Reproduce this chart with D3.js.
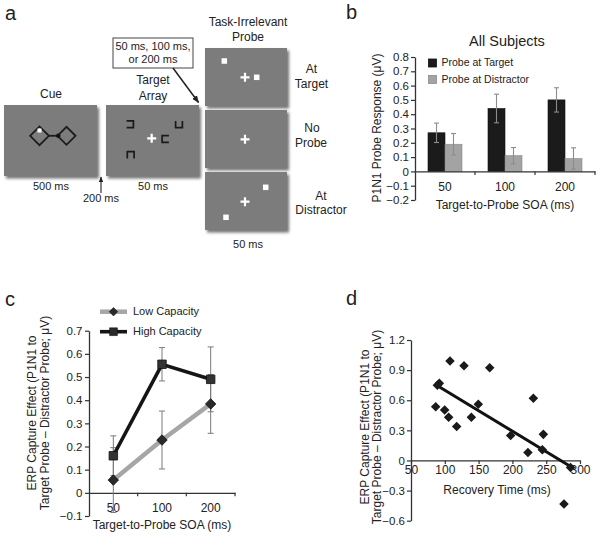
<!DOCTYPE html>
<html><head><meta charset="utf-8">
<script src="https://cdn.jsdelivr.net/npm/d3@7"></script>
<style>
body{margin:0;background:#fff}
svg{display:block}
text{font-family:"Liberation Sans",Arial,sans-serif;fill:#222}
</style>
</head><body><svg id="fig" width="600" height="536"></svg>
<script>
// ---------------- DATA ----------------
// Panel b
const soaCategories = ["50", "100", "200"];
const probeSeries = ["Probe at Target", "Probe at Distractor"];
const probeAtTarget = [0.27, 0.44, 0.50];
const probeAtTargetErr = [0.068, 0.10, 0.085];
const probeAtDistractor = [0.19, 0.11, 0.09];
const probeAtDistractorErr = [0.075, 0.057, 0.075];
const bTicks = [-0.2, -0.1, 0, 0.1, 0.2, 0.3, 0.4, 0.5, 0.6, 0.7, 0.8];

// Panel c
const capacitySeries = ["Low Capacity", "High Capacity"];
const lowCapacity = [0.055, 0.228, 0.384];
const lowCapacityErr = [0.14, 0.125, 0.127];
const highCapacity = [0.16, 0.555, 0.49];
const highCapacityErr = [0.086, 0.072, 0.14];
const cTicks = [-0.1, 0, 0.1, 0.2, 0.3, 0.4, 0.5, 0.6, 0.7];

// Panel d
const recoveryTime = [86.5, 91.9, 89, 107.7, 99.8, 105.7, 117.6, 128.4, 139.3, 149.6, 166.4, 197.4, 231, 223, 245.8, 244.3, 286, 276.3];
const captureEffect = [0.536, 0.768, 0.75, 0.99, 0.503, 0.43, 0.338, 0.944, 0.43, 0.56, 0.924, 0.248, 0.62, 0.08, 0.26, 0.106, -0.07, -0.434];
const fitX = [85.5, 286];
const fitY = [0.76, -0.06];
const dXTicks = [50, 100, 150, 200, 250, 300];
const dYTicks = [-0.6, -0.3, 0, 0.3, 0.6, 0.9, 1.2];

// ---------------- HELPERS ----------------
const svg = d3.select("#fig");
const fmt = v => Math.abs(v) < 1e-9 ? "0" : (v < 0 ? "\u2212" : "") + Math.abs(v).toFixed(1);
const FONT = "Liberation Sans, Arial, sans-serif";

const defs = svg.append("defs");
defs.append("filter").attr("id", "shadow").attr("x", "-10%").attr("y", "-10%").attr("width", "130%").attr("height", "130%")
  .append("feDropShadow").attr("dx", 2).attr("dy", 2.5).attr("stdDeviation", 1.6)
  .attr("flood-color", "#000").attr("flood-opacity", 0.55);
defs.append("marker").attr("id", "arrow").attr("viewBox", "0 0 10 10")
  .attr("refX", 9).attr("refY", 5).attr("markerWidth", 5).attr("markerHeight", 5)
  .attr("orient", "auto-start-reverse")
  .append("path").attr("d", "M0,1 L10,5 L0,9 Z").attr("fill", "#222");

function letter(x, y, t) {
  svg.append("text").attr("x", x).attr("y", y).attr("font-size", 20).text(t);
}
function styleAxis(g) {
  g.selectAll("path.domain").attr("stroke", "#333").attr("stroke-width", 1.3);
  g.selectAll(".tick line").attr("stroke", "#333").attr("stroke-width", 1.2);
  g.selectAll(".tick text").attr("font-family", FONT).attr("font-size", 11.5).attr("fill", "#333");
}

// ---------------- PANEL A ----------------
letter(5, 20, "a");
const boxFill = "#7c7c7c";
const pa = svg.append("g");
function box(x, y, w, h) {
  pa.append("rect").attr("x", x).attr("y", y).attr("width", w).attr("height", h)
    .attr("fill", boxFill).attr("filter", "url(#shadow)");
}
function cross(cx, cy) {
  pa.append("path").attr("d", `M${cx - 4.5},${cy} H${cx + 4.5} M${cx},${cy - 4.5} V${cy + 4.5}`)
    .attr("stroke", "#fff").attr("stroke-width", 2.2);
}
function whiteSq(cx, cy, s) {
  pa.append("rect").attr("x", cx - s / 2).attr("y", cy - s / 2).attr("width", s).attr("height", s).attr("fill", "#fff");
}
function label(x, y, t, size, anchor) {
  pa.append("text").attr("x", x).attr("y", y).attr("font-size", size || 12)
    .attr("text-anchor", anchor || "middle").attr("dominant-baseline", "middle").text(t);
}
// Cue
box(4, 105, 93, 71);
const dia = (cx, cy, r) => `M${cx - r},${cy} L${cx},${cy - r} L${cx + r},${cy} L${cx},${cy + r} Z`;
pa.append("path").attr("d", dia(39.5, 135.8, 9.4)).attr("fill", "none").attr("stroke", "#1c1c1c").attr("stroke-width", 1.8);
pa.append("path").attr("d", dia(66.5, 135.8, 9)).attr("fill", "none").attr("stroke", "#1c1c1c").attr("stroke-width", 1.8);
pa.append("line").attr("x1", 48.9).attr("x2", 57.5).attr("y1", 135.8).attr("y2", 135.8).attr("stroke", "#1c1c1c").attr("stroke-width", 1.8);
whiteSq(39.5, 130.5, 4);
pa.append("circle").attr("cx", 58.3).attr("cy", 135.8).attr("r", 2.2).attr("fill", "#111");
label(51, 95, "Cue");
label(51, 187, "500 ms", 11);
// Target array
box(106, 105, 93, 71);
cross(151.7, 138.3);
const bracket = {
  openL: (x, y, r) => `M${x - r},${y - r} H${x + r} V${y + r} H${x - r}`,
  openT: (x, y, r) => `M${x - r},${y - r} V${y + r} H${x + r} V${y - r}`,
  openR: (x, y, r) => `M${x + r},${y - r} H${x - r} V${y + r} H${x + r}`,
  openB: (x, y, r) => `M${x - r},${y + r} V${y - r} H${x + r} V${y + r}`
};
[["openL", 130, 124.3], ["openT", 179, 124.3], ["openR", 165.5, 139], ["openB", 130.7, 155]].forEach(([k, x, y]) => {
  pa.append("path").attr("d", bracket[k](x, y, 3.4)).attr("fill", "none").attr("stroke", "#1a1a1a").attr("stroke-width", 1.7);
});
label(153, 81, "Target");
label(153, 97, "Array");
label(153, 187, "50 ms", 11);
// 200 ms arrow
pa.append("line").attr("x1", 101).attr("y1", 193).attr("x2", 101).attr("y2", 177)
  .attr("stroke", "#222").attr("stroke-width", 1.1).attr("marker-end", "url(#arrow)");
label(101, 199.5, "200 ms", 11);
// Callout
pa.append("rect").attr("x", 113).attr("y", 38).attr("width", 80).attr("height", 30)
  .attr("fill", "#fff").attr("stroke", "#444").attr("stroke-width", 1);
label(153, 47, "50 ms, 100 ms,", 11);
label(153, 60, "or 200 ms", 11);
pa.append("line").attr("x1", 173).attr("y1", 68).attr("x2", 198.5).attr("y2", 102.5)
  .attr("stroke", "#222").attr("stroke-width", 1.5).attr("marker-end", "url(#arrow)");
// Probe column
label(248, 23, "Task-Irrelevant");
label(248, 37.5, "Probe");
box(205, 48, 82, 58);
whiteSq(224.3, 61, 5.5); cross(245, 77.3); whiteSq(256.7, 77.3, 5.5);
box(205, 110, 82, 58);
cross(245, 139.3);
box(205, 172, 82, 58);
whiteSq(265.7, 187.3, 5.5); cross(245, 201.7); whiteSq(226, 217.3, 5.5);
label(311.5, 70, "At"); label(311.5, 84.5, "Target");
label(312, 129, "No"); label(311, 144, "Probe");
label(321, 197, "At"); label(321, 211, "Distractor");
label(248, 245, "50 ms", 11);

// ---------------- PANEL B ----------------
letter(346, 19, "b");
const yB = d3.scaleLinear().domain([-0.2, 0.8]).range([200, 57]);
const xB = d3.scaleBand().domain(soaCategories).range([415, 595]).paddingInner(0).paddingOuter(0);
const xBSub = d3.scaleBand().domain(probeSeries).range([0, xB.bandwidth()]).paddingInner(0).paddingOuter(0.765);
const bColors = { "Probe at Target": "#1b1b1b", "Probe at Distractor": "#a3a3a3" };
const bStroke = { "Probe at Target": "#111", "Probe at Distractor": "#8a8a8a" };
const bRows = soaCategories.map((c, i) => ({
  cat: c,
  vals: [
    { s: probeSeries[0], v: probeAtTarget[i], e: probeAtTargetErr[i] },
    { s: probeSeries[1], v: probeAtDistractor[i], e: probeAtDistractorErr[i] }
  ]
}));
const pb = svg.append("g");
const gy = pb.append("g").attr("transform", `translate(415,0)`)
  .call(d3.axisLeft(yB).tickValues(bTicks).tickFormat(fmt).tickSize(4).tickPadding(2).tickSizeOuter(0));
styleAxis(gy);
const grp = pb.selectAll("g.grp").data(bRows).join("g").attr("class", "grp")
  .attr("transform", d => `translate(${xB(d.cat)},0)`);
grp.selectAll("rect").data(d => d.vals).join("rect")
  .attr("x", d => xBSub(d.s)).attr("width", xBSub.bandwidth())
  .attr("y", d => yB(d.v)).attr("height", d => yB(0) - yB(d.v))
  .attr("fill", d => bColors[d.s]).attr("stroke", d => bStroke[d.s]).attr("stroke-width", 0.6);
grp.selectAll("g.eb").data(d => d.vals).join("g").attr("class", "eb").each(function (d) {
  const cx = xBSub(d.s) + xBSub.bandwidth() / 2;
  const g = d3.select(this);
  g.append("line").attr("x1", cx).attr("x2", cx).attr("y1", yB(d.v - d.e)).attr("y2", yB(d.v + d.e));
  g.append("line").attr("x1", cx - 2.5).attr("x2", cx + 2.5).attr("y1", yB(d.v - d.e)).attr("y2", yB(d.v - d.e));
  g.append("line").attr("x1", cx - 2.5).attr("x2", cx + 2.5).attr("y1", yB(d.v + d.e)).attr("y2", yB(d.v + d.e));
  g.selectAll("line").attr("stroke", "#8c8c8c").attr("stroke-width", 1.1);
});
// x axis at zero
const gxb = pb.append("g").attr("transform", `translate(0,${yB(0)})`)
  .call(d3.axisBottom(xB).tickSize(0).tickPadding(11).tickSizeOuter(0));
styleAxis(gxb);
gxb.selectAll(".tick text").attr("font-size", 12);
soaCategories.forEach(c => {
  const x = xB(c) + xB.bandwidth();
  pb.append("line").attr("x1", x).attr("x2", x).attr("y1", yB(0)).attr("y2", yB(0) + 3.5).attr("stroke", "#333").attr("stroke-width", 1.2);
});
pb.append("text").attr("x", 507).attr("y", 42).attr("text-anchor", "middle").attr("dominant-baseline", "middle")
  .attr("font-size", 14.5).text("All Subjects");
pb.append("text").attr("transform", "translate(381,128) rotate(-90)").attr("text-anchor", "middle")
  .attr("font-size", 12).text("P1N1 Probe Response (\u03bcV)");
pb.append("text").attr("x", 505).attr("y", 206).attr("text-anchor", "middle").attr("dominant-baseline", "middle")
  .attr("font-size", 12).text("Target-to-Probe SOA (ms)");
const legB = pb.selectAll("g.leg").data(probeSeries).join("g").attr("class", "leg")
  .attr("transform", (d, i) => `translate(428.5,${59 + i * 16.5})`);
legB.append("rect").attr("width", 8).attr("height", 8).attr("fill", d => bColors[d]).attr("stroke", d => bStroke[d]).attr("stroke-width", 0.8);
legB.append("text").attr("x", 13).attr("y", 4.5).attr("dominant-baseline", "middle").attr("font-size", 10.5).text(d => d);

// ---------------- PANEL C ----------------
letter(5, 306, "c");
const yC = d3.scaleLinear().domain([-0.1, 0.7]).range([516, 330.7]);
const xC = d3.scaleBand().domain(soaCategories).range([89, 235]);
const pc = svg.append("g");
const gyc = pc.append("g").attr("transform", "translate(89,0)")
  .call(d3.axisLeft(yC).tickValues(cTicks).tickFormat(fmt).tickSize(4).tickPadding(2.5).tickSizeOuter(0));
styleAxis(gyc);
const gxc = pc.append("g").attr("transform", `translate(0,${yC(0)})`)
  .call(d3.axisBottom(xC).tickSize(0).tickPadding(11).tickSizeOuter(0));
styleAxis(gxc);
gxc.selectAll(".tick text").attr("font-size", 12);
soaCategories.forEach(c => {
  const x = xC(c) + xC.bandwidth();
  pc.append("line").attr("x1", x).attr("x2", x).attr("y1", yC(0)).attr("y2", yC(0) + 3.5).attr("stroke", "#333").attr("stroke-width", 1.2);
});
const cx = c => xC(c) + xC.bandwidth() / 2;
const cSeries = [
  { name: capacitySeries[0], vals: lowCapacity, errs: lowCapacityErr, color: "#a6a6a6", width: 4.5, marker: "diamond" },
  { name: capacitySeries[1], vals: highCapacity, errs: highCapacityErr, color: "#151515", width: 3.6, marker: "square" }
];
// error bars
cSeries.forEach(s => {
  soaCategories.forEach((c, i) => {
    const x = cx(c), lo = yC(s.vals[i] - s.errs[i]), hi = yC(s.vals[i] + s.errs[i]);
    pc.append("line").attr("x1", x).attr("x2", x).attr("y1", lo).attr("y2", hi).attr("stroke", "#7a7a7a").attr("stroke-width", 1);
    [lo, hi].forEach(y => pc.append("line").attr("x1", x - 3).attr("x2", x + 3).attr("y1", y).attr("y2", y).attr("stroke", "#7a7a7a").attr("stroke-width", 1));
  });
});
const lineC = d3.line().x((d, i) => cx(soaCategories[i])).y(d => yC(d));
const symD = d3.symbol().type(d3.symbolDiamond2).size(70);
const symS = d3.symbol().type(d3.symbolSquare).size(72);
cSeries.forEach(s => {
  pc.append("path").attr("d", lineC(s.vals)).attr("fill", "none").attr("stroke", s.color).attr("stroke-width", s.width);
  pc.selectAll(null).data(s.vals).join("path")
    .attr("transform", (d, i) => `translate(${cx(soaCategories[i])},${yC(d)})`)
    .attr("d", s.marker === "diamond" ? symD() : symS())
    .attr("fill", s.marker === "diamond" ? "#2a2a2a" : "#333").attr("stroke", "#111").attr("stroke-width", 0.8);
});
// legend
cSeries.forEach((s, i) => {
  const y = 311.7 + i * 20;
  pc.append("line").attr("x1", 100).attr("x2", 127).attr("y1", y).attr("y2", y).attr("stroke", s.color).attr("stroke-width", s.width);
  pc.append("path").attr("transform", `translate(113.5,${y})`)
    .attr("d", s.marker === "diamond" ? d3.symbol().type(d3.symbolDiamond2).size(45)() : d3.symbol().type(d3.symbolSquare).size(60)())
    .attr("fill", "#2a2a2a").attr("stroke", "#111").attr("stroke-width", 0.6);
  pc.append("text").attr("x", 133).attr("y", y).attr("dominant-baseline", "middle").attr("font-size", 11).text(s.name);
});
pc.append("text").attr("transform", "translate(36,413) rotate(-90)").attr("text-anchor", "middle").attr("font-size", 12).text("ERP Capture Effect (P1N1 to");
pc.append("text").attr("transform", "translate(49,413) rotate(-90)").attr("text-anchor", "middle").attr("font-size", 12).text("Target Probe \u2013 Distractor Probe; \u03bcV)");
pc.append("text").attr("x", 162).attr("y", 526).attr("text-anchor", "middle").attr("dominant-baseline", "middle").attr("font-size", 12).text("Target-to-Probe SOA (ms)");

// ---------------- PANEL D ----------------
letter(346, 305, "d");
const xD = d3.scaleLinear().domain([50, 300]).range([411, 580]);
const yD = d3.scaleLinear().domain([-0.6, 1.2]).range([520.7, 340]);
const pd = svg.append("g");
const gyd = pd.append("g").attr("transform", "translate(411,0)")
  .call(d3.axisLeft(yD).tickValues(dYTicks).tickFormat(fmt).tickSize(4).tickPadding(2).tickSizeOuter(0));
styleAxis(gyd);
const gxd = pd.append("g").attr("transform", `translate(0,${yD(0)})`)
  .call(d3.axisBottom(xD).tickValues(dXTicks).tickSize(3.5).tickPadding(2).tickSizeOuter(0));
styleAxis(gxd);
gxd.selectAll(".tick text").attr("font-size", 12);
pd.append("line").attr("x1", xD(fitX[0])).attr("y1", yD(fitY[0])).attr("x2", xD(fitX[1])).attr("y2", yD(fitY[1]))
  .attr("stroke", "#111").attr("stroke-width", 3);
const symDD = d3.symbol().type(d3.symbolDiamond2).size(58);
pd.selectAll("path.pt").data(recoveryTime.map((x, i) => [x, captureEffect[i]])).join("path").attr("class", "pt")
  .attr("transform", d => `translate(${xD(d[0])},${yD(d[1])})`).attr("d", symDD()).attr("fill", "#1a1a1a");
pd.append("text").attr("transform", "translate(369,427) rotate(-90)").attr("text-anchor", "middle").attr("font-size", 12).text("ERP Capture Effect (P1N1 to");
pd.append("text").attr("transform", "translate(381,427) rotate(-90)").attr("text-anchor", "middle").attr("font-size", 12).text("Target Probe \u2013 Distractor Probe; \u03bcV)");
pd.append("text").attr("x", 497).attr("y", 491).attr("text-anchor", "middle").attr("dominant-baseline", "middle").attr("font-size", 12).text("Recovery Time (ms)");
</script></body></html>
